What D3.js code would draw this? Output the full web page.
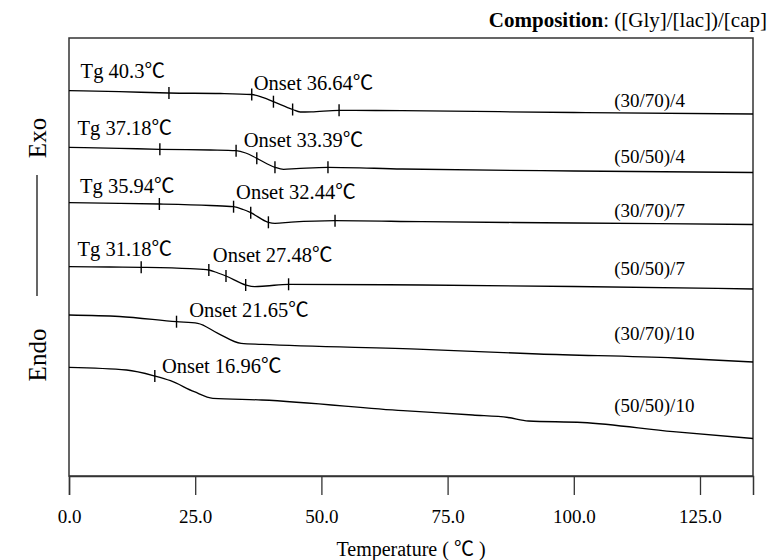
<!DOCTYPE html>
<html>
<head>
<meta charset="utf-8">
<script src="https://cdn.jsdelivr.net/npm/d3@7"></script>
<style>
  html, body { margin: 0; padding: 0; background: #fff; }
  svg text { font-family: "Liberation Serif", "Noto Sans CJK SC", serif; fill: #000; }
</style>
</head>
<body>
<svg id="chart" width="770" height="560"></svg>
<script>
// ---------------- DATA ----------------
const xTicks = [0, 25, 50, 75, 100, 125];
const seriesNames = ["(30/70)/4", "(50/50)/4", "(30/70)/7", "(50/50)/7", "(30/70)/10", "(50/50)/10"];

// DSC traces: [temperature (°C), heat flow (a.u.)]
const curve3070_4 = [[0,385.3],[10,384.3],[19.8,383],[30,382.5],[36.2,381.5],[38.5,378.3],[40.5,374.3],[44.3,366.5],[45.8,364],[48,364.2],[53.5,365.7],[66,365.3],[100,363.5],[135.5,362]];
const curve5050_4 = [[0,328.7],[10,327.7],[18,326.7],[28,326],[33.1,325.3],[35,323],[37.2,317.7],[40.8,308.7],[42.5,306.7],[45,307.3],[51.3,308.7],[66,307],[100,305],[135.5,303.5]];
const curve3070_7 = [[0,273.3],[10,272.7],[17.9,272],[28,270.5],[32.6,269.3],[34.5,266.5],[36,263.3],[39.5,253.7],[40.8,252.7],[44,253.8],[52.7,255.3],[70,254.3],[100,253],[135.5,251.5]];
const curve5050_7 = [[0,209.3],[8,209],[14.3,208.7],[24,207.3],[27.7,206],[29.5,203],[31.1,200],[35,191],[36.8,189.3],[39,190],[43.5,191.7],[70,191],[100,189.5],[135.5,187]];
const curve3070_10 = [[0,161],[10,159.5],[21.3,154.3],[25.5,152.7],[29.5,142.7],[34.1,132.7],[38.2,131.7],[70.2,126.7],[93,122],[120,118],[135.5,114]];
const curve5050_10 = [[0,108.7],[11.4,106],[17,100],[20.1,95.3],[24.8,84.3],[28.5,77.7],[38.2,76],[66.2,65.3],[80,61],[87,58.5],[91,55],[101.7,53.5],[119.7,44.3],[135.5,37.5]];
const curves = [curve3070_4, curve5050_4, curve3070_7, curve5050_7, curve3070_10, curve5050_10];

// temperatures where the small markers sit on each trace
const markerTemps = [
  [19.8, 36.2, 40.5, 44.3, 53.5],
  [18.0, 33.1, 37.2, 40.8, 51.3],
  [17.9, 32.6, 36.0, 39.5, 52.7],
  [14.3, 27.7, 31.1, 35.0, 43.5],
  [21.3],
  [17.0]
];

// annotations: text, temperature, heat flow
const annotationTexts = ["Tg 40.3℃", "Onset 36.64℃", "Tg 37.18℃", "Onset 33.39℃", "Tg 35.94℃", "Onset 32.44℃", "Tg 31.18℃", "Onset 27.48℃", "Onset 21.65℃", "Onset 16.96℃"];
const annotationT = [2.3, 36.6, 1.7, 34.6, 2.2, 33.1, 1.7, 28.5, 23.8, 18.4];
const annotationV = [398, 386, 341, 328.7, 282.7, 276.7, 220, 214.3, 159.3, 102.7];

// series labels on the right: temperature, heat flow
const seriesLabelT = 108.0;
const seriesLabelV = [369.3, 313.3, 259.3, 201.3, 136.3, 64.3];

// ---------------- CHART ----------------
const svg = d3.select("#chart");
const L = 69, R = 753, T = 38, B = 476;
const x = d3.scaleLinear().domain([0, 135.5]).range([L, R]);
const y = d3.scaleLinear().domain([0, 438]).range([B, T]);

// frame
svg.append("rect").attr("x", L).attr("y", T).attr("width", R - L).attr("height", B - T)
  .attr("fill", "none").attr("stroke", "#333").attr("stroke-width", 1.5);

// x axis
const xAxis = d3.axisBottom(x).tickValues(xTicks).tickFormat(d3.format(".1f")).tickSizeOuter(0).tickSize(19).tickPadding(15);
const gx = svg.append("g").attr("transform", `translate(0,${B})`).call(xAxis);
gx.select(".domain").attr("stroke", "#333").attr("stroke-width", 1.5);
gx.selectAll(".tick line").attr("stroke", "#333").attr("stroke-width", 1.3);
gx.selectAll(".tick text").attr("font-size", 19).attr("font-family", "Liberation Serif, serif").attr("fill", "#000");

const xt = svg.append("text").attr("x", (L + R) / 2).attr("y", 556).attr("text-anchor", "middle")
  .attr("font-size", 20);
xt.append("tspan").text("Temperature (");
xt.append("tspan").attr("dx", 5).text("℃");
xt.append("tspan").attr("dx", 5).text(")");

// title
const title = svg.append("text").attr("x", 767).attr("y", 27).attr("text-anchor", "end").attr("font-size", 21);
title.append("tspan").attr("font-weight", "bold").text("Composition");
title.append("tspan").text(": ([Gly]/[lac])/[cap]");

// Exo / Endo
svg.append("text").attr("transform", "translate(46,138) rotate(-90)").attr("text-anchor", "middle")
  .attr("font-size", 25).text("Exo");
svg.append("text").attr("transform", "translate(46,355) rotate(-90)").attr("text-anchor", "middle")
  .attr("font-size", 25).text("Endo");
svg.append("line").attr("x1", 37).attr("x2", 37).attr("y1", 175).attr("y2", 296)
  .attr("stroke", "#000").attr("stroke-width", 1.2);

// traces
const line = d3.line().x(d => x(d[0])).y(d => y(d[1])).curve(d3.curveMonotoneX);
svg.append("g").selectAll("path").data(curves).join("path")
  .attr("d", line).attr("fill", "none").attr("stroke", "#000").attr("stroke-width", 1.3);

// markers
function valueAt(c, t) {
  for (let i = 0; i < c.length - 1; i++) {
    if (t >= c[i][0] && t <= c[i + 1][0]) {
      const f = (t - c[i][0]) / (c[i + 1][0] - c[i][0]);
      return c[i][1] + f * (c[i + 1][1] - c[i][1]);
    }
  }
  return c[c.length - 1][1];
}
const markers = [];
markerTemps.forEach((ts, i) => ts.forEach(t => markers.push([t, valueAt(curves[i], t)])));
svg.append("g").selectAll("line").data(markers).join("line")
  .attr("x1", d => x(d[0])).attr("x2", d => x(d[0]))
  .attr("y1", d => y(d[1]) - 6).attr("y2", d => y(d[1]) + 6)
  .attr("stroke", "#000").attr("stroke-width", 1.4);

// annotations
svg.append("g").selectAll("text").data(annotationTexts).join("text")
  .attr("x", (d, i) => x(annotationT[i])).attr("y", (d, i) => y(annotationV[i]))
  .attr("font-size", 20.5).text(d => d);

// series labels
svg.append("g").selectAll("text").data(seriesNames).join("text")
  .attr("x", x(seriesLabelT)).attr("y", (d, i) => y(seriesLabelV[i]))
  .attr("font-size", 19).text(d => d);
</script>
</body>
</html>
